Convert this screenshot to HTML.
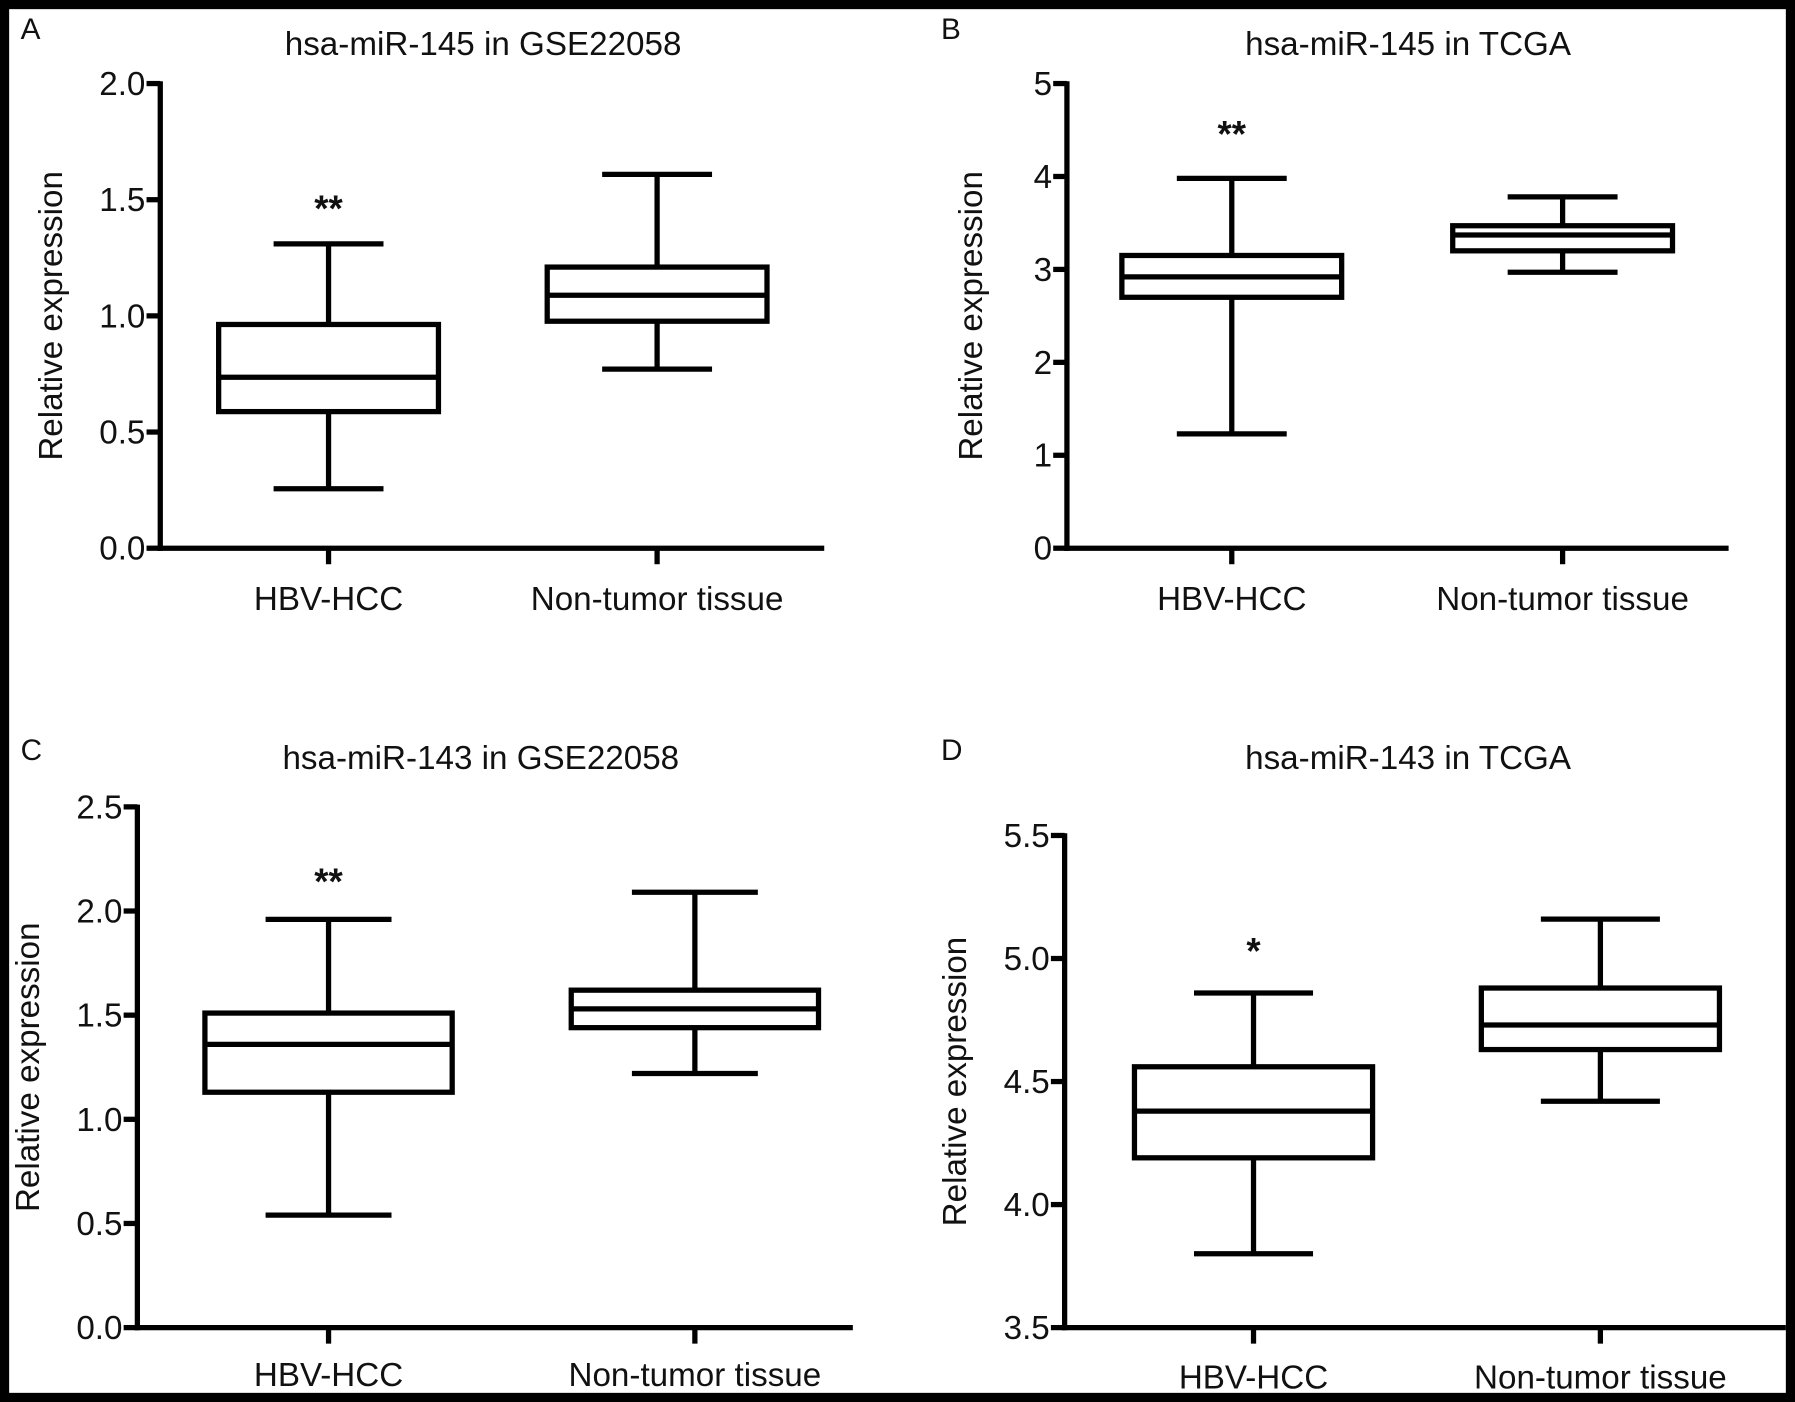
<!DOCTYPE html>
<html><head><meta charset="utf-8"><style>
html,body{margin:0;padding:0;background:#000;}
svg{display:block;}
text{font-family:"Liberation Sans",sans-serif;fill:#111;}
</style></head><body>
<svg id="fig" width="1795" height="1402" viewBox="0 0 1568 1225" preserveAspectRatio="none" xmlns="http://www.w3.org/2000/svg">
<rect x="0" y="0" width="1568" height="1225" fill="#000"/>
<rect x="8" y="8" width="1552" height="1209" fill="#fff"/>
</svg>
<script>
const categories = ["HBV-HCC", "Non-tumor tissue"];
const titles = ["hsa-miR-145 in GSE22058","hsa-miR-145 in TCGA","hsa-miR-143 in GSE22058","hsa-miR-143 in TCGA"];
const panelLetters = ["A","B","C","D"];
const stars = ["**","**","**","*"];
const ticksA = [0.0,0.5,1.0,1.5,2.0];
const ticksB = [0,1,2,3,4,5];
const ticksC = [0.0,0.5,1.0,1.5,2.0,2.5];
const ticksD = [3.5,4.0,4.5,5.0,5.5];
const tickLabelsA = ["0.0","0.5","1.0","1.5","2.0"];
const tickLabelsB = ["0","1","2","3","4","5"];
const tickLabelsC = ["0.0","0.5","1.0","1.5","2.0","2.5"];
const tickLabelsD = ["3.5","4.0","4.5","5.0","5.5"];
// [whiskerLow, Q1, median, Q3, whiskerHigh] per category
const hccA = [0.256,0.588,0.736,0.963,1.31];
const normA = [0.771,0.977,1.089,1.21,1.609];
const hccB = [1.23,2.70,2.92,3.15,3.98];
const normB = [2.97,3.20,3.37,3.47,3.78];
const hccC = [0.54,1.13,1.36,1.51,1.96];
const normC = [1.22,1.44,1.53,1.62,2.09];
const hccD = [3.80,4.19,4.38,4.56,4.86];
const normD = [4.42,4.63,4.73,4.88,5.16];

const layouts = [
 {ax:140, yTop:73, yBot:479, xEnd:720, cx:[287,574], hw:96, cap:48, ymin:0, ymax:2, ticks:ticksA, labels:tickLabelsA, data:[hccA,normA], tx:422, ty:48, lx:18, ly:34, ylx:54, starY:193, catY:533},
 {ax:932, yTop:73, yBot:479, xEnd:1510, cx:[1076,1365], hw:96, cap:48, ymin:0, ymax:5, ticks:ticksB, labels:tickLabelsB, data:[hccB,normB], tx:1230, ty:48, lx:822, ly:34, ylx:858, starY:128, catY:533},
 {ax:120, yTop:705, yBot:1160, xEnd:745, cx:[287,607], hw:108, cap:55, ymin:0, ymax:2.5, ticks:ticksC, labels:tickLabelsC, data:[hccC,normC], tx:420, ty:672, lx:18, ly:664, ylx:34, starY:781, catY:1211},
 {ax:930, yTop:730, yBot:1160, xEnd:1560, cx:[1095,1398], hw:104, cap:52, ymin:3.5, ymax:5.5, ticks:ticksD, labels:tickLabelsD, data:[hccD,normD], tx:1230, ty:672, lx:822, ly:664, ylx:844, starY:842, catY:1213}
];
const NS="http://www.w3.org/2000/svg";
const svg=document.getElementById('fig');
function mk(tag,attrs,parent){const e=document.createElementNS(NS,tag);for(const k in attrs)e.setAttribute(k,attrs[k]);(parent||svg).appendChild(e);return e;}
const SW=4.6;
layouts.forEach((L,p)=>{
  const g=mk('g',{});
  
  
  const y=v=>L.yBot-(v-L.ymin)/(L.ymax-L.ymin)*(L.yBot-L.yTop);
  const letter=mk('text',{x:L.lx,y:L.ly,'font-size':26},g);letter.textContent=panelLetters[p];
  
  
  const t=mk('text',{x:L.tx,y:L.ty,'font-size':29,'text-anchor':'middle'},g);t.textContent=titles[p];
  
  
  const yax=mk('line',{x1:L.ax,y1:L.yTop-2,x2:L.ax,y2:L.yBot+SW/2,stroke:'#000','stroke-width':SW},g);
  
  
  const xax=mk('line',{x1:L.ax-SW/2,y1:L.yBot,x2:L.xEnd,y2:L.yBot,stroke:'#000','stroke-width':SW},g);
  
  
  L.ticks.forEach((v,i)=>{
    mk('line',{x1:L.ax-12,y1:y(v),x2:L.ax,y2:y(v),stroke:'#000','stroke-width':SW},g);
    const tl=mk('text',{x:L.ax-13,y:y(v)+10,'font-size':29,'text-anchor':'end'},g);tl.textContent=L.labels[i];
    
    
  });
  const yl=mk('text',{x:0,y:0,'font-size':29,'text-anchor':'middle',transform:`translate(${L.ylx},${(L.yTop+L.yBot)/2}) rotate(-90)`},g);
  yl.textContent='Relative expression';
  
  
  L.data.forEach((d,c)=>{
    const cx=L.cx[c];
    mk('line',{x1:cx,y1:L.yBot,x2:cx,y2:L.yBot+14,stroke:'#000','stroke-width':SW},g);
    const cl=mk('text',{x:cx,y:L.catY,'font-size':29,'text-anchor':'middle'},g);cl.textContent=categories[c];
    
    
    const bg=mk('g',{stroke:'#000','stroke-width':SW,fill:'none'},g);
    
    
    mk('line',{x1:cx,y1:y(d[0]),x2:cx,y2:y(d[1])},bg);
    mk('line',{x1:cx,y1:y(d[3]),x2:cx,y2:y(d[4])},bg);
    mk('line',{x1:cx-L.cap,y1:y(d[0]),x2:cx+L.cap,y2:y(d[0])},bg);
    mk('line',{x1:cx-L.cap,y1:y(d[4]),x2:cx+L.cap,y2:y(d[4])},bg);
    mk('rect',{x:cx-L.hw,y:y(d[3]),width:2*L.hw,height:y(d[1])-y(d[3]),fill:'#fff'},bg);
    mk('line',{x1:cx-L.hw,y1:y(d[2]),x2:cx+L.hw,y2:y(d[2])},bg);
  });
  const s=mk('text',{x:L.cx[0],y:L.starY,'font-size':32,'font-weight':'bold','text-anchor':'middle'},g);s.textContent=stars[p];
  
  
});
</script>
</body></html>
